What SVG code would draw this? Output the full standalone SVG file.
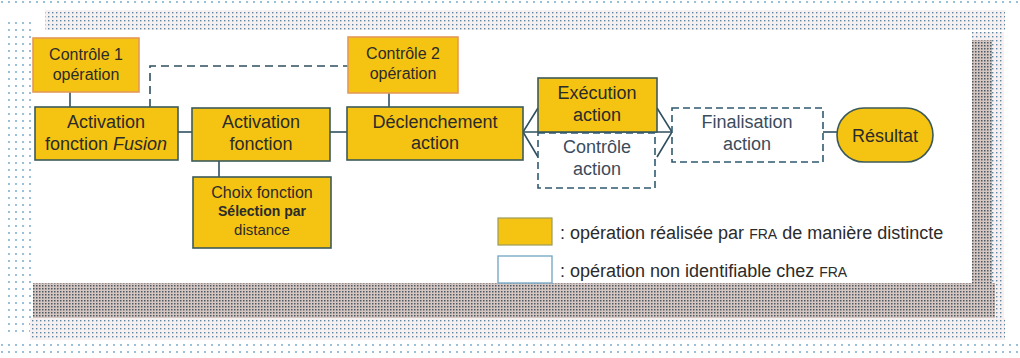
<svg xmlns="http://www.w3.org/2000/svg" width="1020" height="358" viewBox="0 0 1020 358">
<defs>
<pattern id="dotsDense" width="3" height="3" patternUnits="userSpaceOnUse"><rect width="3" height="3" fill="#d6c6c2"/><rect width="1.5" height="1.5" fill="#4a5862"/></pattern>
<pattern id="dotsMed" width="4" height="4" patternUnits="userSpaceOnUse"><rect width="4" height="4" fill="#f6f0f0"/><rect width="1.4" height="1.4" fill="#5f86a0"/></pattern>
<pattern id="dotsLight" width="7" height="7" patternUnits="userSpaceOnUse"><rect width="7" height="7" fill="#ffffff"/><circle cx="2" cy="2" r="0.9" fill="#6aa3c8"/></pattern>
<style>
.fill{fill:#f5c412;stroke:#3c5a5a;stroke-width:1.6}
.ctrl{fill:#f5c412;stroke:#e49a58;stroke-width:1.6}
.dash{fill:#ffffff;stroke:#2f5a72;stroke-width:1.6;stroke-dasharray:7 4}
.t{font-family:"Liberation Sans",Arial,sans-serif;fill:#2b2b2b;text-anchor:middle}
.t18{font-size:18px}
.t16{font-size:16px}
.t14{font-size:14px}
.grey{fill:#3c4c5c}
.line{stroke:#2f4f5f;stroke-width:1.6;fill:none}
.dline{stroke:#2f4f5f;stroke-width:1.6;fill:none;stroke-dasharray:8 5}
.leg{font-family:"Liberation Sans",Arial,sans-serif;fill:#2b2b2b;font-size:18px}
</style>
</defs>
<rect width="1020" height="358" fill="#ffffff"/>
<g id="shadow">
<rect x="0" y="0" width="1020" height="8" fill="url(#dotsLight)"/>
<rect x="45" y="10" width="960" height="20" fill="url(#dotsMed)"/>
<rect x="3" y="22" width="32" height="310" fill="url(#dotsLight)"/>
<rect x="972" y="32" width="32" height="290" fill="url(#dotsMed)"/>
<rect x="30" y="318" width="975" height="22" fill="url(#dotsMed)"/>
<rect x="972" y="40" width="20" height="278" fill="url(#dotsDense)"/>
<rect x="33" y="283" width="962" height="35" fill="url(#dotsDense)"/>
<rect x="0" y="340" width="1020" height="18" fill="url(#dotsLight)"/>
</g>
<rect x="33" y="30" width="939" height="253" fill="#ffffff"/>
<g id="connectors">
<line class="line" x1="70" y1="92" x2="70" y2="107"/>
<polyline class="dline" points="150,107 150,66 348,66"/>
<line class="line" x1="178" y1="132" x2="192" y2="132"/>
<line class="line" x1="219" y1="161" x2="219" y2="177"/>
<line class="line" x1="330" y1="132" x2="347" y2="132"/>
<line class="line" x1="389" y1="93" x2="389" y2="107"/>
<line class="line" x1="523" y1="132" x2="672" y2="132"/>
<polyline class="line" points="538,108 523,132 538,157"/>
<polyline class="line" points="657,108 672,132 657,157"/>
<line class="line" x1="823" y1="132" x2="837" y2="132"/>
</g>
<g id="controle1">
<rect class="ctrl" x="33" y="38" width="106" height="54"/>
<text class="t t16" x="86" y="60">Contrôle 1</text>
<text class="t t16" x="86" y="80">opération</text>
</g>
<g id="activationFusion">
<rect class="fill" x="35" y="107" width="143" height="53"/>
<text class="t t18" x="106" y="128">Activation</text>
<text class="t t18" x="106" y="150">fonction <tspan font-style="italic">Fusion</tspan></text>
</g>
<g id="activationFonction">
<rect class="fill" x="192" y="108" width="138" height="53"/>
<text class="t t18" x="261" y="128">Activation</text>
<text class="t t18" x="261" y="150">fonction</text>
</g>
<g id="choixFonction">
<rect class="fill" x="193" y="177" width="138" height="71"/>
<text class="t t16" x="262" y="198">Choix fonction</text>
<text class="t t14" x="262" y="216" font-weight="bold">Sélection par</text>
<text class="t" x="262" y="235" font-size="15px">distance</text>
</g>
<g id="controle2">
<rect class="ctrl" x="348" y="37" width="110" height="56"/>
<text class="t t16" x="403" y="59">Contrôle 2</text>
<text class="t t16" x="403" y="79">opération</text>
</g>
<g id="declenchement">
<rect class="fill" x="347" y="107" width="176" height="53"/>
<text class="t t18" x="435" y="128">Déclenchement</text>
<text class="t t18" x="435" y="149">action</text>
</g>
<g id="execution">
<rect class="fill" x="538" y="78" width="119" height="54"/>
<text class="t t18" x="597" y="99">Exécution</text>
<text class="t t18" x="597" y="121">action</text>
</g>
<g id="controleAction">
<rect class="dash" x="538" y="133" width="117" height="55"/>
<text class="t t18 grey" x="597" y="153">Contrôle</text>
<text class="t t18 grey" x="597" y="175">action</text>
</g>
<g id="finalisation">
<rect class="dash" x="672" y="108" width="151" height="54"/>
<text class="t t18 grey" x="747" y="128">Finalisation</text>
<text class="t t18 grey" x="747" y="150">action</text>
</g>
<g id="resultat">
<rect class="fill" x="837" y="108" width="96" height="54" rx="27" ry="27"/>
<text class="t t18" x="885" y="142">Résultat</text>
</g>
<g id="legende">
<rect x="498" y="218" width="54" height="27" fill="#f5c412" stroke="#9a9a5a" stroke-width="1.2"/>
<text class="leg" x="560" y="239">: opération réalisée par <tspan font-size="14px">FRA</tspan> de manière distincte</text>
<rect x="498" y="256" width="54" height="27" fill="#ffffff" stroke="#7aaac8" stroke-width="1.4"/>
<text class="leg" x="560" y="277">: opération non identifiable chez <tspan font-size="14px">FRA</tspan></text>
</g>
</svg>
